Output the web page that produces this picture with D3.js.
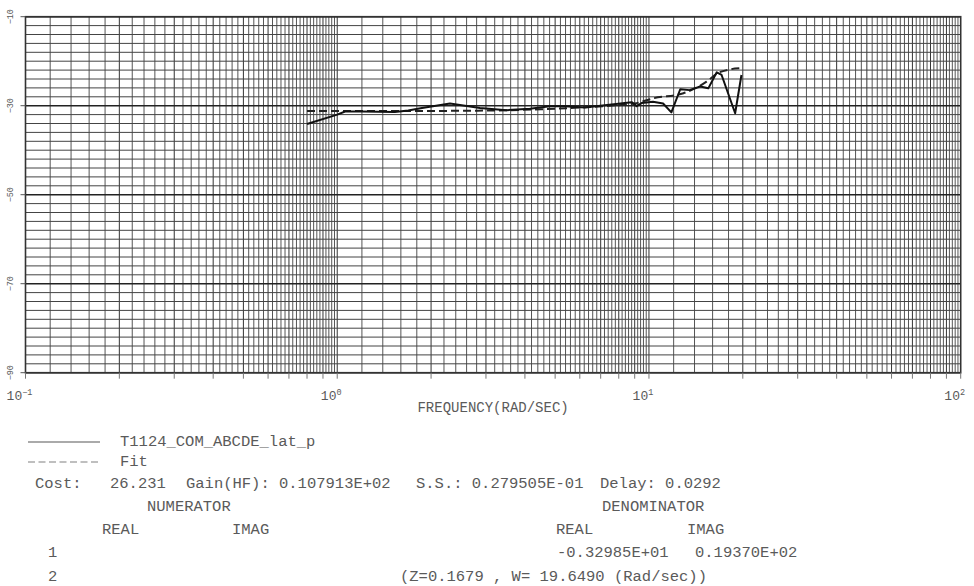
<!DOCTYPE html>
<html><head><meta charset="utf-8">
<script src="https://cdn.jsdelivr.net/npm/d3@7"></script>
<style>
html,body{margin:0;padding:0;background:#fff;}
svg{display:block;}
text{font-family:"Liberation Mono","DejaVu Sans Mono",monospace;fill:#5a5a5a;}
</style></head>
<body>
<svg id="chart" width="974" height="586"></svg>
<script>
// ---- data ----
const xDecades = [0.1, 1, 10, 100];
const xDecadeExp = ["-1", "0", "1", "2"];
const yTicks = [-10, -30, -50, -70, -90];
const measFreq = [0.80, 1.0, 1.06, 1.2, 1.53, 1.69, 1.87, 2.3, 2.87, 3.49, 4.15, 4.81, 5.37, 6.23, 7.22, 8.37, 8.8, 9.13, 9.47, 10.3, 11.1, 11.8, 12.6, 13.5, 14.6, 15.5, 16.5, 17.1, 18.9, 19.8];
const measMag  = [-34.1, -32.0, -31.3, -31.3, -31.4, -31.1, -30.5, -29.5, -30.5, -31.0, -30.7, -30.1, -30.1, -30.4, -29.9, -29.4, -29.2, -30.1, -29.4, -29.1, -29.5, -31.5, -26.3, -26.5, -25.7, -26.1, -22.5, -23.1, -31.7, -23.1];
const fitFreq = [0.8, 1.5, 3, 4.5, 6, 7.5, 9, 10.4, 12.9, 15.3, 16.6, 18.0, 19.6];
const fitMag  = [-31.2, -31.2, -31.1, -30.8, -30.4, -30.0, -29.5, -28.3, -27.2, -24.6, -22.7, -21.9, -21.6];
const legendNames = ["T1124_COM_ABCDE_lat_p", "Fit"];

const svg = d3.select("#chart");
const L = 25.5, R = 960.7, T = 16.7, B = 372.7;
const x = d3.scaleLog().domain([0.1, 100]).range([L, R]);
const y = d3.scaleLinear().domain([-10, -90]).range([T, B]);

// grid
const g = svg.append("g");
const vlines = [];
[0.1, 1, 10].forEach(d => { for (let m = 1.0; m < 9.99; m += 0.2) vlines.push({v: +(m * d).toPrecision(4), major: Math.abs(m - Math.round(m)) < 1e-6}); });
g.selectAll("line.v").data(vlines).join("line")
  .attr("x1", d => x(d.v)).attr("x2", d => x(d.v)).attr("y1", T).attr("y2", B)
  .attr("stroke", d => d.major ? "#333" : "#555").attr("stroke-width", 1);
const hvals = d3.range(-10, -90.01, -2);
g.selectAll("line.h").data(hvals).join("line")
  .attr("x1", L).attr("x2", R).attr("y1", d => y(d)).attr("y2", d => y(d))
  .attr("stroke", d => (d % 20 === -10 || d % 20 === 10) ? "#222" : "#444")
  .attr("stroke-width", d => (d % 20 === -10 || d % 20 === 10) ? 1.4 : 1);
svg.append("rect").attr("x", L).attr("y", T).attr("width", R - L).attr("height", B - T)
  .attr("fill", "none").attr("stroke", "#333").attr("stroke-width", 1.6);

// y ticks & labels
yTicks.forEach(v => {
  svg.append("line").attr("x1", L - 5).attr("x2", L).attr("y1", y(v)).attr("y2", y(v)).attr("stroke", "#555");
  svg.append("text").attr("transform", `translate(13,${y(v)}) rotate(-90)`)
    .attr("text-anchor", "middle").attr("font-size", 8.5).text(String(v).replace("-", "\u2212"));
});
// x ticks
const xt = [];
[0.1, 1, 10].forEach(d => { for (let m = 1; m <= 9; m++) xt.push(m * d); });
xt.push(100);
svg.selectAll("line.xt").data(xt).join("line")
  .attr("x1", d => x(d)).attr("x2", d => x(d)).attr("y1", B).attr("y2", B + 6)
  .attr("stroke", "#777").attr("stroke-width", 1);
xDecades.forEach((d, i) => {
  const t = svg.append("text").attr("x", x(d) - 6).attr("y", 400).attr("text-anchor", "middle").attr("font-size", 13);
  t.append("tspan").text("10");
  t.append("tspan").attr("dy", -5).attr("font-size", 8.5).text(xDecadeExp[i].replace("-", "\u2212"));
});
svg.append("text").attr("x", (L + R) / 2).attr("y", 412).attr("text-anchor", "middle")
  .attr("font-size", 14).text("FREQUENCY(RAD/SEC)");

// curves
svg.append("path").datum(fitFreq.map((f, i) => [f, fitMag[i]]))
  .attr("d", d3.line().x(d => x(d[0])).y(d => y(d[1])).curve(d3.curveMonotoneX))
  .attr("fill", "none").attr("stroke", "#222")
  .attr("stroke-width", 2).attr("stroke-dasharray", "8,4");
svg.append("path").datum(measFreq.map((f, i) => [f, measMag[i]]))
  .attr("d", d3.line().x(d => x(d[0])).y(d => y(d[1]))).attr("fill", "none").attr("stroke", "#111")
  .attr("stroke-width", 2).attr("stroke-linejoin", "round");

// legend and text block
const fs = 15.5;
svg.append("line").attr("x1", 28).attr("x2", 100).attr("y1", 442).attr("y2", 442).attr("stroke", "#aaa").attr("stroke-width", 2);
svg.append("text").attr("x", 120).attr("y", 446).attr("font-size", fs).text(legendNames[0]);
svg.append("line").attr("x1", 28).attr("x2", 100).attr("y1", 462).attr("y2", 462).attr("stroke", "#aaa").attr("stroke-width", 1.5).attr("stroke-dasharray", "7,3.5");
svg.append("text").attr("x", 120).attr("y", 466).attr("font-size", fs).text(legendNames[1]);

const rows = [
  [35, 488, "Cost:"], [110, 488, "26.231"], [186, 488, "Gain(HF): 0.107913E+02"],
  [416, 488, "S.S.: 0.279505E-01"], [600, 488, "Delay: 0.0292"],
  [147, 511, "NUMERATOR"], [602, 511, "DENOMINATOR"],
  [102, 534, "REAL"], [232, 534, "IMAG"], [556, 534, "REAL"], [687, 534, "IMAG"],
  [48, 557, "1"], [557, 557, "-0.32985E+01"], [695, 557, "0.19370E+02"],
  [48, 581, "2"], [400, 581, "(Z=0.1679 , W= 19.6490 (Rad/sec))"]
];
svg.selectAll("text.row").data(rows).join("text").attr("class", "row")
  .attr("x", d => d[0]).attr("y", d => d[1]).attr("font-size", fs).attr("xml:space", "preserve").text(d => d[2]);
</script>
</body></html>
